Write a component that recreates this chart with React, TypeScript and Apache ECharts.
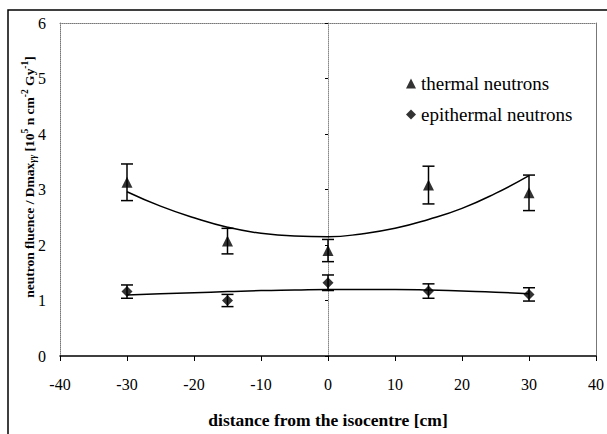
import React, { useEffect, useRef } from "react";
import * as echarts from "echarts";

// measured points
const positions = [-30, -15, 0, 15, 30];
const thermalValues = [3.13, 2.07, 1.9, 3.08, 2.94];
const thermalErrors = [0.33, 0.23, 0.2, 0.34, 0.32];
const epithermalValues = [1.16, 1.0, 1.32, 1.17, 1.11];
const epithermalErrors = [0.12, 0.11, 0.14, 0.13, 0.12];

// fitted trend lines
const fitX = [-30, -25, -20, -15, -10, -5, 0, 5, 10, 15, 20, 25, 30];
const thermalFit = [2.96, 2.7, 2.49, 2.32, 2.21, 2.16, 2.15, 2.2, 2.3, 2.46, 2.66, 2.93, 3.25];
const epithermalFit = [1.1, 1.12, 1.14, 1.16, 1.18, 1.19, 1.2, 1.2, 1.2, 1.19, 1.17, 1.15, 1.12];

const xTicks = [-40, -30, -20, -10, 0, 10, 20, 30, 40];
const yTicks = [0, 1, 2, 3, 4, 5, 6];

const SERIF = "Liberation Serif";

function errorData(vals: number[], errs: number[]) {
  return positions.map((x, i) => [x, vals[i] - errs[i], vals[i] + errs[i]]);
}

function renderErr(params: any, api: any) {
  const x = api.value(0);
  const lo = api.coord([x, api.value(1)]);
  const hi = api.coord([x, api.value(2)]);
  const w = 6;
  const style = { stroke: "#000", lineWidth: 1.5 };
  return {
    type: "group",
    children: [
      { type: "line", shape: { x1: lo[0], y1: lo[1], x2: hi[0], y2: hi[1] }, style },
      { type: "line", shape: { x1: lo[0] - w, y1: lo[1], x2: lo[0] + w, y2: lo[1] }, style },
      { type: "line", shape: { x1: hi[0] - w, y1: hi[1], x2: hi[0] + w, y2: hi[1] }, style },
    ],
  };
}

export default function App() {
  const ref = useRef<HTMLDivElement>(null);
  useEffect(() => {
    document.body.style.margin = "0";
    if (!ref.current) return;
    const chart = echarts.init(ref.current, undefined, { renderer: "svg" });
    const yMin = yTicks[0];
    const yMax = yTicks[yTicks.length - 1];
    const xMin = xTicks[0];
    const xMax = xTicks[xTicks.length - 1];
    chart.setOption({
      animation: false,
      backgroundColor: "#fff",
      textStyle: { fontFamily: SERIF },
      grid: { left: 60, right: 11, top: 23, bottom: 75 },
      legend: {
        orient: "vertical",
        left: 401,
        top: 69,
        itemGap: 12,
        itemWidth: 10,
        itemHeight: 10,
        data: ["thermal neutrons", "epithermal neutrons"],
        textStyle: { fontFamily: SERIF, fontSize: 19, color: "#000", padding: [0, 0, 0, 0] },
      },
      xAxis: [
        {
          type: "value",
          min: xMin,
          max: xMax,
          interval: 10,
          position: "bottom",
          axisLine: { onZero: false, lineStyle: { color: "#000", width: 1.5 } },
          axisTick: { show: true, length: 5, lineStyle: { color: "#000" } },
          axisLabel: { fontFamily: SERIF, fontSize: 16, color: "#000", margin: 20 },
          splitLine: { show: false },
          name: "distance from the isocentre [cm]",
          nameLocation: "middle",
          nameGap: 55,
          nameTextStyle: { fontFamily: SERIF, fontSize: 17.5, fontWeight: "bold", color: "#000" },
        },
        {
          type: "value",
          min: xMin,
          max: xMax,
          position: "top",
          axisLine: { show: true, onZero: false, lineStyle: { color: "#777", type: "dotted", width: 1 } },
          axisTick: { show: false },
          axisLabel: { show: false },
          splitLine: { show: false },
        },
      ],
      yAxis: [
        {
          type: "value",
          min: yMin,
          max: yMax,
          interval: 1,
          axisLine: { show: true, onZero: true, lineStyle: { color: "#888", type: "dotted", width: 1 } },
          axisTick: { show: true, inside: false, length: 3, lineStyle: { color: "#000" } },
          axisLabel: { fontFamily: SERIF, fontSize: 16, color: "#000", margin: 14 },
          splitLine: { show: false },
        },
        {
          type: "value",
          min: yMin,
          max: yMax,
          position: "left",
          axisLine: { show: true, onZero: false, lineStyle: { color: "#777", type: "dotted", width: 1 } },
          axisTick: { show: false },
          axisLabel: { show: false },
          splitLine: { show: false },
        },
        {
          type: "value",
          min: yMin,
          max: yMax,
          position: "right",
          axisLine: { show: true, onZero: false, lineStyle: { color: "#777", type: "solid", width: 1 } },
          axisTick: { show: false },
          axisLabel: { show: false },
          splitLine: { show: false },
        },
      ],
      graphic: [
        {
          type: "rect",
          shape: { x: 8, y: 10, width: 640, height: 460 },
          style: { fill: "none", stroke: "#000", lineWidth: 1.5 },
          silent: true,
        },
        {
          type: "text",
          x: 29,
          y: 177,
          rotation: Math.PI / 2,
          style: {
            text:
              "{b|neutron fluence / Dmax}{sub|γγ}{b| [10}{sup|5}{b| n cm}{sup|-2}{b| Gy}{sup|-1}{b|]}",
            align: "center",
            verticalAlign: "middle",
            fill: "#000",
            rich: {
              b: { fontFamily: SERIF, fontSize: 13.5, fontWeight: "bold", fill: "#000", verticalAlign: "middle" },
              sub: { fontFamily: SERIF, fontSize: 9.5, fontWeight: "bold", fontStyle: "italic", fill: "#000", verticalAlign: "bottom", padding: [8, 0, 0, 0] },
              sup: { fontFamily: SERIF, fontSize: 9.5, fontWeight: "bold", fill: "#000", verticalAlign: "top", padding: [0, 0, 8, 0] },
            },
          },
        },
      ],
      series: [
        {
          name: "thermal neutrons",
          type: "scatter",
          symbol: "triangle",
          symbolSize: 11,
          itemStyle: { color: "#000" },
          data: positions.map((x, i) => [x, thermalValues[i]]),
          z: 5,
        },
        {
          name: "epithermal neutrons",
          type: "scatter",
          symbol: "diamond",
          symbolSize: 11,
          itemStyle: { color: "#000" },
          data: positions.map((x, i) => [x, epithermalValues[i]]),
          z: 5,
        },
        {
          type: "line",
          smooth: true,
          showSymbol: false,
          lineStyle: { color: "#000", width: 1.5 },
          data: fitX.map((x, i) => [x, thermalFit[i]]),
        },
        {
          type: "line",
          smooth: true,
          showSymbol: false,
          lineStyle: { color: "#000", width: 1.5 },
          data: fitX.map((x, i) => [x, epithermalFit[i]]),
        },
        {
          type: "custom",
          renderItem: renderErr,
          data: errorData(thermalValues, thermalErrors),
          z: 4,
        },
        {
          type: "custom",
          renderItem: renderErr,
          data: errorData(epithermalValues, epithermalErrors),
          z: 4,
        },
      ],
    });
    return () => chart.dispose();
  }, []);
  return <div ref={ref} style={{ width: 607, height: 434 }} />;
}
